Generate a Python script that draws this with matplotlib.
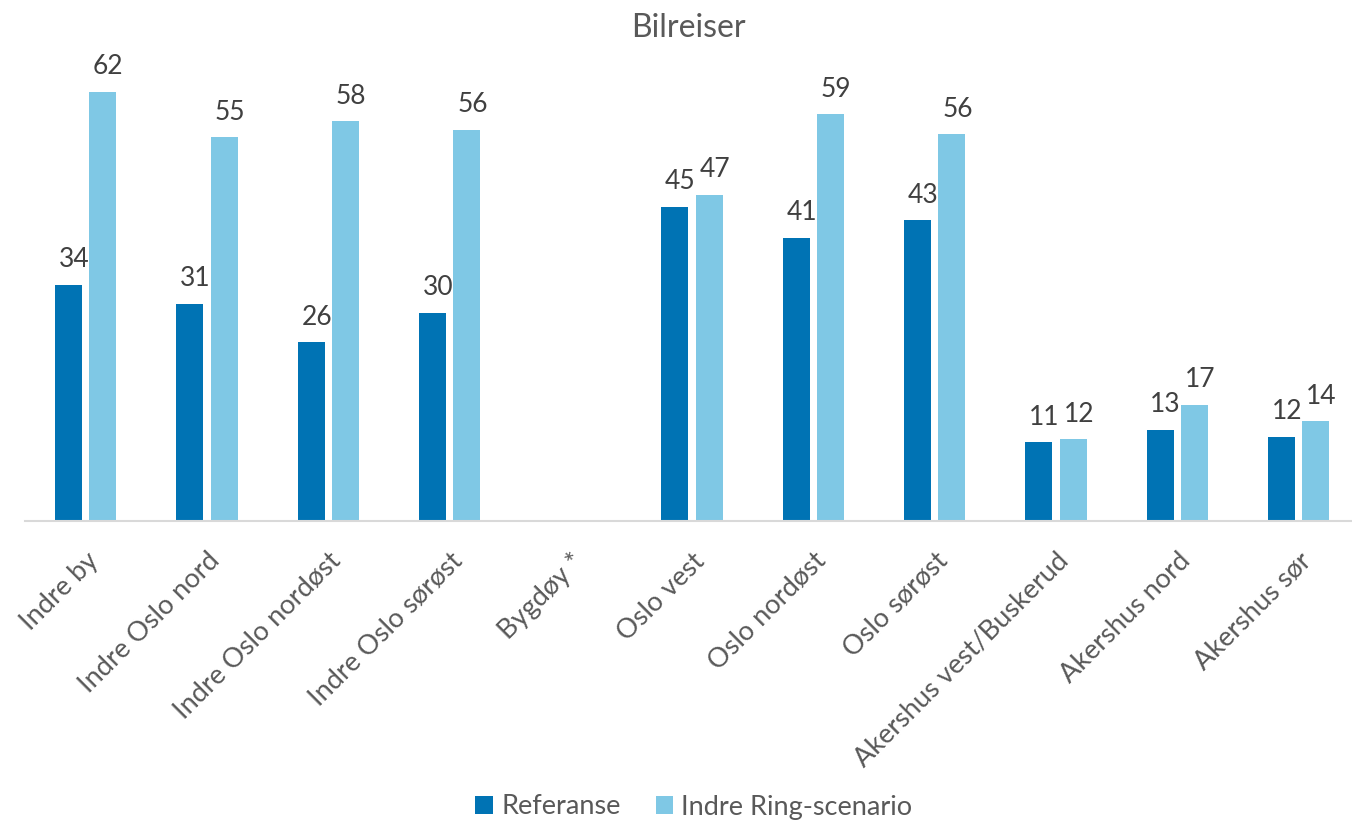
import matplotlib
matplotlib.use("Agg")
import matplotlib.pyplot as plt
import numpy as np

categories = ["Indre by", "Indre Oslo nord", "Indre Oslo nordøst", "Indre Oslo sørøst",
              "Bygdøy *", "Oslo vest", "Oslo nordøst", "Oslo sørøst",
              "Akershus vest/Buskerud", "Akershus nord", "Akershus sør"]
referanse = [34.0, 31.3, 25.7, 30.0, np.nan, 45.3, 40.8, 43.3, 11.3, 13.1, 12.1]
indre_ring = [61.9, 55.3, 57.6, 56.4, np.nan, 47.0, 58.6, 55.7, 11.7, 16.7, 14.3]
series_names = ["Referanse", "Indre Ring-scenario"]
title = "Bilreiser"

plt.rcParams['font.family'] = ['Lato', 'DejaVu Sans']

W, H = 1352, 825
fig = plt.figure(figsize=(W / 100, H / 100), dpi=100)
base_px = 520.5
ppu = 6.93
ymax = 70
ax = fig.add_axes([25 / W, (H - base_px) / H, 11 * 121.3 / W, ymax * ppu / H])

x = np.arange(len(categories))
bw = 0.2226
off = 0.142
c1, c2 = "#0073B4", "#7FC8E5"
b1 = ax.bar(x - off, referanse, bw, color=c1, label=series_names[0])
b2 = ax.bar(x + off, indre_ring, bw, color=c2, label=series_names[1])

for bars, vals in ((b1, referanse), (b2, indre_ring)):
    for rect, v in zip(bars, vals):
        if np.isnan(v):
            continue
        ax.annotate(f"{v:.0f}", (rect.get_x() + rect.get_width() / 2, v),
                    xytext=(4, 9), textcoords="offset points", ha="center", va="bottom",
                    fontsize=19, color="#404040")

ax.set_xlim(-0.5, len(categories) - 0.5)
ax.set_ylim(0, ymax)
for s in ("top", "right", "left"):
    ax.spines[s].set_visible(False)
ax.spines["bottom"].set_color("#D9D9D9")
ax.spines["bottom"].set_linewidth(1.5)
ax.set_yticks([])
ax.set_xticks(x)
ax.set_xticklabels(categories, rotation=45, ha="right", rotation_mode="anchor",
                   fontsize=19.5, color="#595959")
ax.tick_params(axis="x", length=0, pad=20)

fig.text(688 / W, 1 - 28 / H, title, ha="center", va="center", fontsize=23, color="#595959")

leg = fig.legend(handles=[b1, b2], labels=series_names, loc="center",
                 bbox_to_anchor=(694 / W, 1 - 807 / H), ncol=2, frameon=False,
                 fontsize=19.5, handlelength=0.65, handleheight=0.65, handletextpad=0.3,
                 columnspacing=1.3)
for t in leg.get_texts():
    t.set_color("#595959")

fig.savefig("out.png", dpi=100)
